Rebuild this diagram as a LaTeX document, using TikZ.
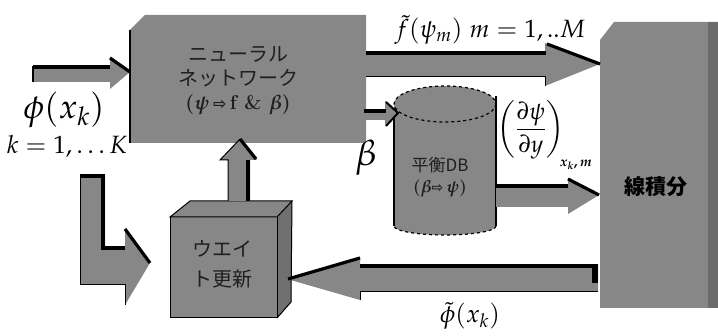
\documentclass[tikz,border=0pt]{standalone}
\usepackage{amsmath}
\usepackage{mathpazo}
\usepackage{fontspec}
\newfontfamily\cjk{Noto Sans CJK JP}
\newfontfamily\dv{DejaVu Sans}
\tikzset{
  blk/.style={fill=black!45,draw=none},
  shadow/.style={line width=3.2pt,black,line cap=butt},
  edge/.style={line width=1.6pt,black},
  jtext/.style={font=\cjk\fontsize{20}{22}\selectfont,text=black!88,align=center,inner sep=0pt},
  lab/.style={inner sep=0pt}
}
\begin{document}
\begin{tikzpicture}[x=1pt,y=-1pt]
\useasboundingbox (0,0) rectangle (718,336);

% ---------- Neural network box ----------
\fill[black!47] (130,30) -- (145,15) -- (366,15) -- (366,143) -- (130,143) -- cycle;
\draw[edge] (130,30) -- (130,143);
\node[jtext] (nn) at (238,81) {ニューラル\\[2pt]ネットワーク\\[2pt]{\bfseries\rmfamily($\boldsymbol\psi$\,{\dv\fontsize{16}{18}\selectfont⇨}\,f \& $\boldsymbol\beta$)}};

% ---------- Line integral box ----------
\fill[black!47] (600,40) -- (614,22) -- (718,22) -- (718,308) -- (600,308) -- cycle;
\fill[black!58] (708,22) rectangle (718,308);
\node[font=\cjk\bfseries\fontsize{21}{23}\selectfont,inner sep=0pt] (li) at (656,187) {線積分};

% ---------- Weight update cube ----------
\fill[black!47] (170,217) -- (190,201) -- (292,201) -- (291,302) -- (277,318) -- (170,318) -- cycle;
\fill[black!56] (277,217) -- (292,201) -- (291,302) -- (277,318) -- cycle;
\draw[line width=1pt] (170,217) -- (190,201) -- (292,201) -- (277,217) -- cycle;
\draw[line width=1pt] (170,217) -- (170,318) -- (277,318) -- (277,217);
\draw[line width=1pt] (292,201) -- (291,302) -- (277,318);
\node[jtext] (wu) at (222,264) {ウエイ\\[8pt]ト更新};

% ---------- DB cylinder ----------
\fill[black!47] (394,104) arc[start angle=180,end angle=360,x radius=51,y radius=18]
  -- (496,226) arc[start angle=0,end angle=180,x radius=51,y radius=9] -- cycle;
\fill[black!47] (445,104) ellipse[x radius=51,y radius=18];
\draw[line width=1.2pt,dashed] (445,104) ellipse[x radius=51,y radius=18];
\draw[line width=1.2pt] (394,110) -- (394,226);
\draw[line width=1.2pt] (496,96) -- (496,226);
\draw[line width=1.2pt,dashed] (496,226) arc[start angle=0,end angle=180,x radius=51,y radius=9];
\node[jtext,font=\cjk\fontsize{17}{19}\selectfont] (db) at (440,177) {平衡DB\\[2pt]{\bfseries\rmfamily($\boldsymbol\beta${\dv\fontsize{14}{16}\selectfont⇨}\,$\boldsymbol\psi$)}};

% ---------- input arrow ----------
\fill[black!47] (33,66) -- (110,66) -- (110,57) -- (130,72) -- (110,89) -- (110,82) -- (33,82) -- cycle;
\draw[shadow] (33,67) -- (110,67);
\draw[shadow] (110,58) -- (130,72);
\draw[line width=1.2pt] (33,66) -- (33,82);

% ---------- top arrow NN -> integral ----------
\fill[black!47] (366,52) -- (545,52) -- (545,43) -- (600,64) -- (545,86) -- (545,77) -- (366,77) -- cycle;
\draw[shadow] (366,53) -- (546,53);
\draw[shadow] (547,44) -- (600,64);
\draw[line width=1pt] (366,77) -- (545,77) -- (545,86);

% ---------- beta arrow NN -> DB ----------
\fill[black!47] (366,110) -- (385,110) -- (385,101) -- (398,113) -- (385,126) -- (385,120) -- (366,120) -- cycle;
\draw[shadow] (364,111) -- (386,111);
\draw[line width=2pt] (386,102) -- (398,113) -- (386,126);

% ---------- DB -> integral arrow ----------
\fill[black!47] (496,185) -- (568,185) -- (568,178) -- (599,195) -- (568,214) -- (568,207) -- (496,207) -- cycle;
\draw[shadow] (496,186) -- (568,186);
\draw[shadow] (568,179) -- (599,195);

% ---------- feedback arrow integral -> weight update ----------
\fill[black!47] (598,265) -- (360,265) -- (360,257) -- (287,279) -- (360,300) -- (360,292) -- (598,292) -- cycle;
\draw[shadow] (598,266) -- (360,266);
\draw[shadow] (360,258) -- (288,279);
\fill[black] (592,265) rectangle (598,283);
\draw[line width=1pt] (598,292) -- (360,292) -- (360,300);

% ---------- up arrow weight update -> NN ----------
\fill[black!47] (228,201) -- (228,160) -- (220,160) -- (240,139) -- (257,160) -- (250,160) -- (250,201) -- cycle;
\draw[shadow] (248,201) -- (248,160);
\draw[shadow] (240,139) -- (256,159);
\draw[line width=1pt] (228,201) -- (228,160) -- (220,160) -- (240,139);

% ---------- L arrow ----------
\fill[black!47] (80,175) -- (105,175) -- (105,247) -- (125,247) -- (125,228) -- (150,263) -- (125,305) -- (125,285) -- (80,285) -- cycle;
\draw[shadow] (103,175) -- (103,248) -- (125,248);
\draw[shadow] (80,176) -- (105,176);
\draw[shadow] (125,229) -- (150,263);
\draw[line width=1pt] (80,175) -- (80,285) -- (125,285) -- (125,305);

% ---------- labels ----------
\node[lab,font=\fontsize{34}{36}\selectfont] (phi) at (64,110) {$\phi(x_k)$};
\node[lab,font=\fontsize{25}{27}\selectfont] (kk) at (67,146) {$k=1,\ldots K$};
\node[lab,font=\fontsize{25}{27}\selectfont] (ft) at (490,30) {$\tilde f(\psi_{m})\; m=1,..M$};
\node[lab,font=\fontsize{36}{38}\selectfont] (beta) at (366,158) {$\beta$};
\node[lab,font=\fontsize{24}{28}\selectfont] (frac) at (531,130) {$\left(\dfrac{\partial\psi}{\partial y}\right)$};
\node[lab,font=\fontsize{14}{15}\selectfont] (sub) at (576,165) {$\boldsymbol{x_k, m}$};
\node[lab,font=\fontsize{25}{27}\selectfont] (phit) at (470,316) {$\tilde\phi(x_k)$};
\end{tikzpicture}
\end{document}
